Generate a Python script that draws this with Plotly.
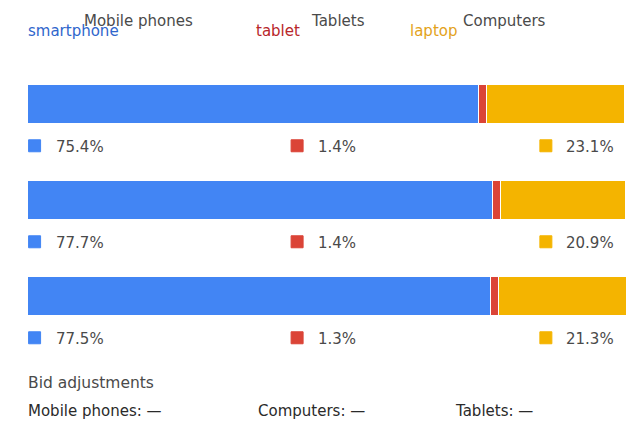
import plotly.graph_objects as go

rows = [0, 1, 2]
smartphone = [75.4, 77.7, 77.5]
tablet = [1.4, 1.4, 1.3]
laptop = [23.1, 20.9, 21.3]
series_names = ["smartphone", "tablet", "laptop"]
header_labels = ["Mobile phones", "Tablets", "Computers"]
colors = ["#4285f4", "#db4437", "#f4b400"]
name_colors = ["#2f66cc", "#b8262a", "#e3a21a"]
bid_title = "Bid adjustments"
bid_labels = ["Mobile phones: \u2014", "Computers: \u2014", "Tablets: \u2014"]

W, H = 627, 436
FONT = "DejaVu Sans, Verdana, sans-serif"
TXT = "#4a4a4a"

fig = go.Figure()
series = [smartphone, tablet, laptop]
for name, vals, col in zip(series_names, series, colors):
    fig.add_trace(go.Bar(
        y=rows, x=vals, orientation="h", name=name,
        marker=dict(color=col, line=dict(color="white", width=1)),
        width=0.41, hoverinfo="skip", showlegend=False,
    ))

# legend squares + percentages under each bar
sq_x = [1.1, 45.0, 86.6]      # x positions in axis units (layout)
txt_x = [4.3, 48.1, 89.6]
row_off = 0.43
for i, (vals, col) in enumerate(zip(series, colors)):
    fig.add_trace(go.Scatter(
        x=[sq_x[i]] * len(rows), y=[r + row_off for r in rows], mode="markers",
        marker=dict(symbol="square", size=12, color=col, line=dict(color=col, width=1)),
        hoverinfo="skip", showlegend=False,
    ))
    for r, v in zip(rows, vals):
        fig.add_annotation(x=txt_x[i], y=r + row_off + 0.01, xref="x", yref="y",
                           text=f"{v}%", showarrow=False, xanchor="left", yanchor="middle",
                           font=dict(family=FONT, size=15, color=TXT))

annots = []
# header labels
hx_name = [26, 254, 408]
hx_head = [82, 309, 461]
for i in range(3):
    annots.append(dict(x=hx_name[i] / W, y=1 - 31 / H, xref="paper", yref="paper",
                       text=series_names[i], showarrow=False, xanchor="left", yanchor="middle",
                       font=dict(family=FONT, size=15, color=name_colors[i])))
    annots.append(dict(x=hx_head[i] / W, y=1 - 20.5 / H, xref="paper", yref="paper",
                       text=header_labels[i], showarrow=False, xanchor="left", yanchor="middle",
                       font=dict(family=FONT, size=15, color=TXT)))
annots.append(dict(x=26 / W, y=1 - 383 / H, xref="paper", yref="paper", text=bid_title,
                   showarrow=False, xanchor="left", yanchor="middle",
                   font=dict(family=FONT, size=15.5, color=TXT)))
bx = [26, 256, 453]
for i in range(3):
    annots.append(dict(x=bx[i] / W, y=1 - 411 / H, xref="paper", yref="paper", text=bid_labels[i],
                       showarrow=False, xanchor="left", yanchor="middle",
                       font=dict(family=FONT, size=15, color="#2a2a2a")))
for a in annots:
    fig.add_annotation(**a)

step = 96.0
c0 = 104.5
fig.update_layout(
    width=W, height=H, margin=dict(l=0, r=0, t=0, b=0),
    paper_bgcolor="white", plot_bgcolor="white",
    barmode="stack", bargap=0,
    xaxis=dict(domain=[28 / W, 626 / W], range=[0, 100], visible=False, fixedrange=True),
    yaxis=dict(domain=[0, 1], range=[(H - c0) / step, -c0 / step], visible=False, fixedrange=True),
    font=dict(family=FONT),
)
fig.write_html("out.html")
